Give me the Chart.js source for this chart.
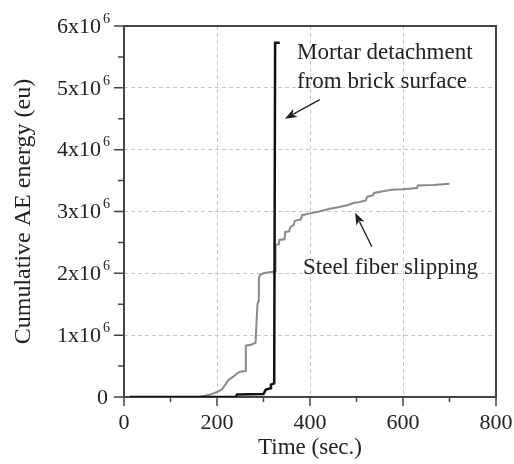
<!DOCTYPE html>
<html>
<head>
<meta charset="utf-8">
<script src="https://cdn.jsdelivr.net/npm/chart.js@4"></script>
<style>
  html, body { margin: 0; padding: 0; background: #fff; }
  #wrap { width: 514px; height: 464px; }
</style>
</head>
<body>
<div id="wrap"><canvas id="ae-chart" width="514" height="464"></canvas></div>
<script>
// Steel fiber slipping (grey curve)
var fiberTime = [13, 160, 175, 190, 200, 210, 218, 224, 235, 243, 250, 261, 262, 275, 283, 285, 287, 289, 290, 292, 300, 322, 325,
    326, 333, 334, 345, 347, 355, 358, 365, 367, 380, 383, 400, 420, 440, 460, 480, 495, 505, 520, 523, 535, 538, 560, 575, 600, 630, 632, 665, 700]
var fiberEnergy = [0, 0, 0.02e6, 0.05e6, 0.08e6, 0.12e6, 0.2e6, 0.27e6, 0.33e6, 0.38e6, 0.41e6, 0.42e6, 0.83e6, 0.85e6, 0.88e6, 1.2e6, 1.5e6, 1.55e6, 1.9e6, 1.97e6, 2.0e6, 2.03e6, 2.03e6,
    2.46e6, 2.47e6, 2.54e6, 2.55e6, 2.67e6, 2.68e6, 2.75e6, 2.78e6, 2.85e6, 2.87e6, 2.94e6, 2.97e6, 3.0e6, 3.04e6, 3.07e6, 3.1e6, 3.14e6, 3.15e6, 3.18e6, 3.24e6, 3.26e6, 3.3e6, 3.33e6, 3.35e6, 3.36e6, 3.38e6, 3.42e6, 3.43e6, 3.45e6]

// Mortar detachment (black curve)
var mortarTime = [13, 240, 243, 300, 305, 315, 316, 323, 325, 335]
var mortarEnergy = [0, 0, 0.04e6, 0.05e6, 0.12e6, 0.14e6, 0.2e6, 0.22e6, 5.73e6, 5.73e6]

var xTicks = [0, 200, 400, 600, 800]
var yTicks = [0, 1e6, 2e6, 3e6, 4e6, 5e6, 6e6]
var yTickLabels = ['0', '1x10', '2x10', '3x10', '4x10', '5x10', '6x10']

var serif = "'Liberation Serif', 'Times New Roman', serif"
var textColor = '#222'
var axisColor = '#444'

function toPoints(xs, ys) {
    return xs.map((x, i) => ({ x: x, y: ys[i] }))
}

//Frame and ticks go under the curves, labels and notes on top
const decorPlugin = {
    id: 'decor',
    beforeDatasetsDraw(chart) {
        const ctx = chart.ctx
        const area = chart.chartArea
        const xs = chart.scales.x
        const ys = chart.scales.y

        ctx.save()
        ctx.strokeStyle = axisColor
        ctx.lineWidth = 2
        ctx.strokeRect(area.left, area.top, area.right - area.left, area.bottom - area.top)

        // outward ticks, long for majors, short for minors
        ctx.lineWidth = 1.5
        ctx.beginPath()
        xs.ticks.forEach(t => {
            const px = xs.getPixelForValue(t.value)
            const len = t.value % 200 === 0 ? 9 : 5
            ctx.moveTo(px, area.bottom)
            ctx.lineTo(px, area.bottom + len)
        })
        ys.ticks.forEach(t => {
            const py = ys.getPixelForValue(t.value)
            const len = t.value % 1e6 === 0 ? 10 : 6
            ctx.moveTo(area.left, py)
            ctx.lineTo(area.left - len, py)
        })
        ctx.stroke()
        ctx.restore()
    },
    afterDraw(chart) {
        const ctx = chart.ctx
        const xs = chart.scales.x
        const ys = chart.scales.y

        ctx.save()
        // y tick labels "Nx10^6"
        ctx.fillStyle = textColor
        ctx.textBaseline = 'middle'
        yTicks.forEach((v, i) => {
            const py = ys.getPixelForValue(v)
            if (v === 0) {
                ctx.font = '22px ' + serif
                ctx.textAlign = 'right'
                ctx.fillText(yTickLabels[i], 108, py + 1)
                return
            }
            ctx.font = '14px ' + serif
            ctx.textAlign = 'right'
            ctx.fillText('6', 110, py - 7)
            ctx.font = '22px ' + serif
            ctx.fillText(yTickLabels[i], 101, py + 1)
        })

        // annotations
        ctx.font = '23px ' + serif
        ctx.textAlign = 'left'
        ctx.textBaseline = 'alphabetic'
        ctx.fillText('Mortar detachment', xs.getPixelForValue(372), ys.getPixelForValue(5.47e6))
        ctx.fillText('from brick surface', xs.getPixelForValue(372), ys.getPixelForValue(5.0e6))
        ctx.fillText('Steel fiber slipping', xs.getPixelForValue(385), ys.getPixelForValue(1.99e6))

        drawArrow(ctx, xs.getPixelForValue(421), ys.getPixelForValue(4.81e6), xs.getPixelForValue(346), ys.getPixelForValue(4.5e6))
        drawArrow(ctx, xs.getPixelForValue(533), ys.getPixelForValue(2.43e6), xs.getPixelForValue(497), ys.getPixelForValue(2.98e6))
        ctx.restore()
    }
}

function drawArrow(ctx, x1, y1, x2, y2) {
    const ang = Math.atan2(y2 - y1, x2 - x1)
    const headLen = 12
    const headW = 4.5
    ctx.strokeStyle = '#222'
    ctx.lineWidth = 1.3
    ctx.beginPath()
    ctx.moveTo(x1, y1)
    ctx.lineTo(x2 - Math.cos(ang) * headLen * 0.8, y2 - Math.sin(ang) * headLen * 0.8)
    ctx.stroke()
    ctx.fillStyle = '#222'
    ctx.beginPath()
    ctx.moveTo(x2, y2)
    ctx.lineTo(x2 - Math.cos(ang) * headLen - Math.sin(ang) * headW, y2 - Math.sin(ang) * headLen + Math.cos(ang) * headW)
    ctx.lineTo(x2 - Math.cos(ang) * headLen * 0.75, y2 - Math.sin(ang) * headLen * 0.75)
    ctx.lineTo(x2 - Math.cos(ang) * headLen + Math.sin(ang) * headW, y2 - Math.sin(ang) * headLen - Math.cos(ang) * headW)
    ctx.closePath()
    ctx.fill()
}

var ctxAE = document.getElementById('ae-chart').getContext('2d')

let aeChart = new Chart(ctxAE, {
    type: 'scatter',
    data: {
        datasets: [{
            label: 'Mortar detachment',
            data: toPoints(mortarTime, mortarEnergy),
            showLine: true,
            borderColor: '#111',
            borderWidth: 2.5,
            pointRadius: 0,
            tension: 0,
            order: 0
        }, {
            label: 'Steel fiber slipping',
            data: toPoints(fiberTime, fiberEnergy),
            showLine: true,
            borderColor: '#8a8a8a',
            borderWidth: 2,
            pointRadius: 0,
            tension: 0,
            order: 1
        }]
    },
    options: {
        responsive: false,
        animation: false,
        layout: { padding: { top: 26, right: 18, left: 0, bottom: 0 } },
        plugins: {
            legend: { display: false },
            tooltip: { enabled: false }
        },
        scales: {
            x: {
                type: 'linear',
                min: 0,
                max: 800,
                afterFit: scale => {
                    scale.height = 67
                    scale.paddingLeft = 0
                    scale.paddingRight = 0
                },
                ticks: {
                    stepSize: 100,
                    padding: 13,
                    maxRotation: 0,
                    color: textColor,
                    font: { family: serif, size: 22 },
                    callback: v => xTicks.includes(v) ? String(v) : ''
                },
                grid: {
                    color: c => (c.tick && c.tick.value % 200 === 0 && c.tick.value > 0 && c.tick.value < 800) ? '#c8c8c8' : 'rgba(0,0,0,0)',
                    drawTicks: false
                },
                border: { display: false, dash: [4, 3] },
                title: {
                    display: true,
                    text: 'Time (sec.)',
                    color: textColor,
                    font: { family: serif, size: 23 },
                    padding: { top: 0, bottom: 2 }
                }
            },
            y: {
                type: 'linear',
                min: 0,
                max: 6e6,
                afterFit: scale => {
                    scale.width = 124
                    scale.paddingTop = 0
                    scale.paddingBottom = 0
                },
                ticks: {
                    stepSize: 0.5e6,
                    display: false
                },
                grid: {
                    color: c => (c.tick && c.tick.value % 1e6 === 0 && c.tick.value > 0 && c.tick.value < 6e6) ? '#c8c8c8' : 'rgba(0,0,0,0)',
                    drawTicks: false
                },
                border: { display: false, dash: [4, 3] },
                title: {
                    display: true,
                    text: 'Cumulative AE energy (eu)',
                    color: textColor,
                    font: { family: serif, size: 24 },
                    padding: { top: 9, bottom: 0 }
                }
            }
        }
    },
    plugins: [decorPlugin]
})
</script>
</body>
</html>
